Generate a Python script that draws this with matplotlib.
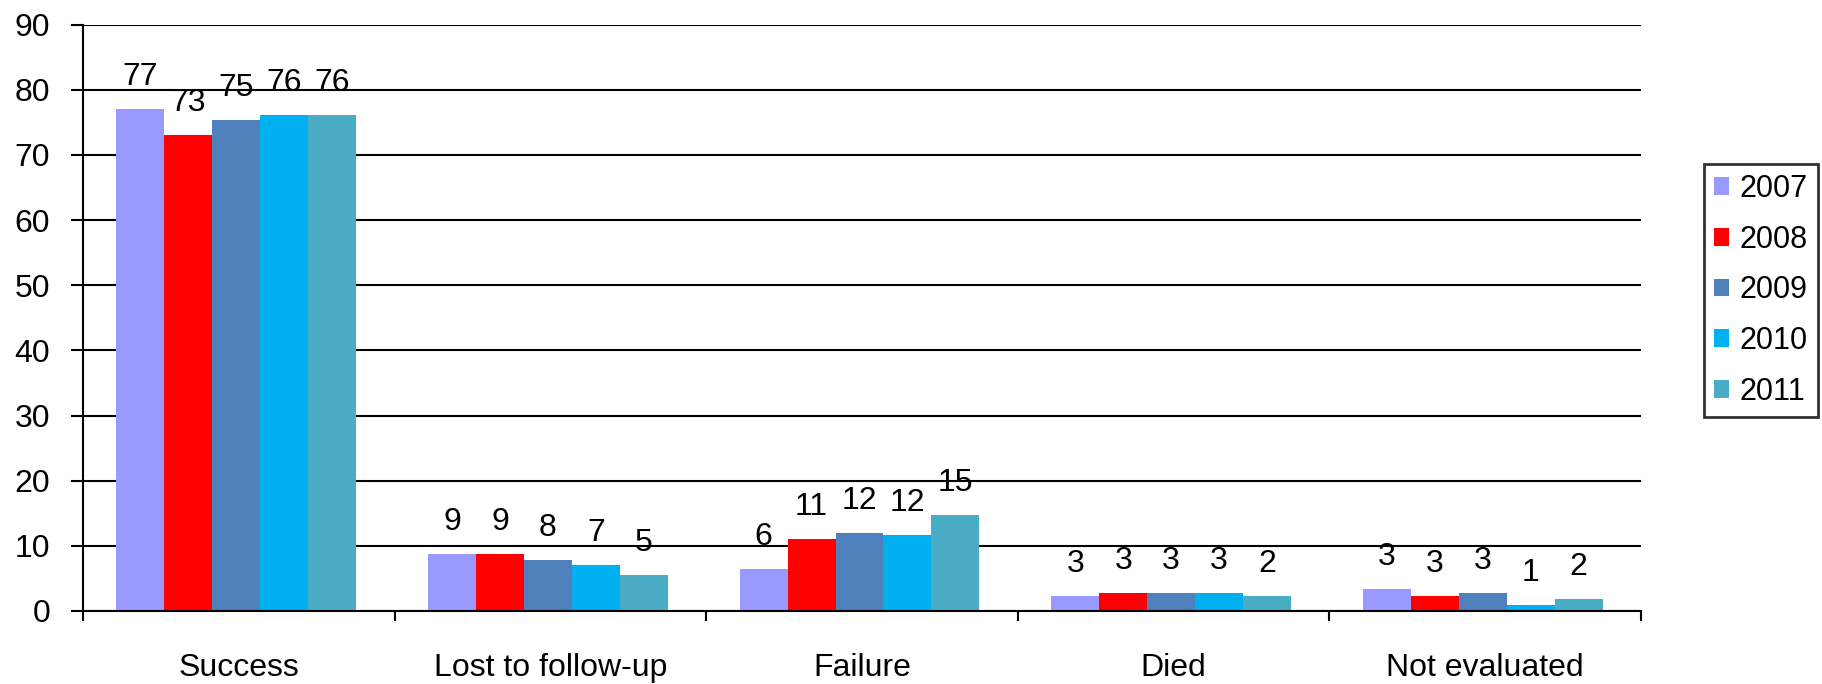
import numpy as np
from matplotlib import pyplot as plt

plt.rcParams['font.family'] = ['Liberation Sans', 'DejaVu Sans']

# data
categories = ['Success', 'Lost to follow-up', 'Failure', 'Died', 'Not evaluated']
years = ['2007', '2008', '2009', '2010', '2011']
colors = ['#9999FF', '#FF0000', '#4F81BD', '#00B0F0', '#4BACC6']

v2007 = [77.1, 8.8, 6.5, 2.3, 3.3]
v2008 = [73.0, 8.8, 11.1, 2.8, 2.3]
v2009 = [75.3, 7.9, 12.0, 2.8, 2.8]
v2010 = [76.1, 7.0, 11.6, 2.8, 0.9]
v2011 = [76.1, 5.6, 14.8, 2.3, 1.9]

lab2007 = ['77', '9', '6', '3', '3']
lab2008 = ['73', '9', '11', '3', '3']
lab2009 = ['75', '8', '12', '3', '3']
lab2010 = ['76', '7', '12', '3', '1']
lab2011 = ['76', '5', '15', '2', '2']

series = [v2007, v2008, v2009, v2010, v2011]
labels = [lab2007, lab2008, lab2009, lab2010, lab2011]

fs = 23
lw = 1.5

fig = plt.figure(figsize=(18.22, 6.84), dpi=100)
ax = fig.add_axes([83 / 1822, 1 - 611 / 684, (1641 - 83) / 1822, (611 - 24.5) / 684])

x = np.arange(len(categories))
w = 1 / 6.5
for j, vals in enumerate(series):
	pos = x + (j - 2) * w - 0.008
	ax.bar(pos, vals, width=w, color=colors[j], label=years[j], zorder=3, linewidth=0)
	for p, v, t in zip(pos, vals, labels[j]):
		ax.annotate(t, (p, v), xytext=(0, 32), textcoords='offset pixels',
			ha='center', va='center', fontsize=fs, zorder=4)

ax.set_xlim(-0.5, len(categories) - 0.5)
ax.set_ylim(0, 90)
ax.set_yticks(np.arange(0, 91, 10))
ax.yaxis.grid(True, color='black', linewidth=lw, zorder=1)
ax.set_axisbelow(True)

# category boundaries get the tick marks, centres get the labels
ax.set_xticks(np.arange(-0.5, len(categories), 1))
ax.set_xticklabels([])
ax.set_xticks(x, minor=True)
ax.set_xticklabels(categories, minor=True, fontsize=fs)
ax.tick_params(axis='x', which='major', direction='out', length=7, width=lw, color='black')
ax.tick_params(axis='x', which='minor', length=0, pad=30)
ax.tick_params(axis='y', direction='out', length=8.6, width=lw, pad=15, labelsize=fs)

for s in ['top', 'right']:
	ax.spines[s].set_visible(False)
for s in ['left', 'bottom']:
	ax.spines[s].set_linewidth(lw)
	ax.spines[s].set_color('black')
	ax.spines[s].set_zorder(5)

leg = fig.legend(loc='upper left', bbox_to_anchor=(1704 / 1822, 1 - 164 / 684),
	fontsize=22, frameon=True, fancybox=False, handlelength=0.5, handleheight=0.52,
	handletextpad=0.35, labelspacing=0.68, borderpad=0.32, borderaxespad=0)
leg.get_frame().set_edgecolor('black')
leg.get_frame().set_linewidth(2)

fig.savefig('out.png', dpi=100)
